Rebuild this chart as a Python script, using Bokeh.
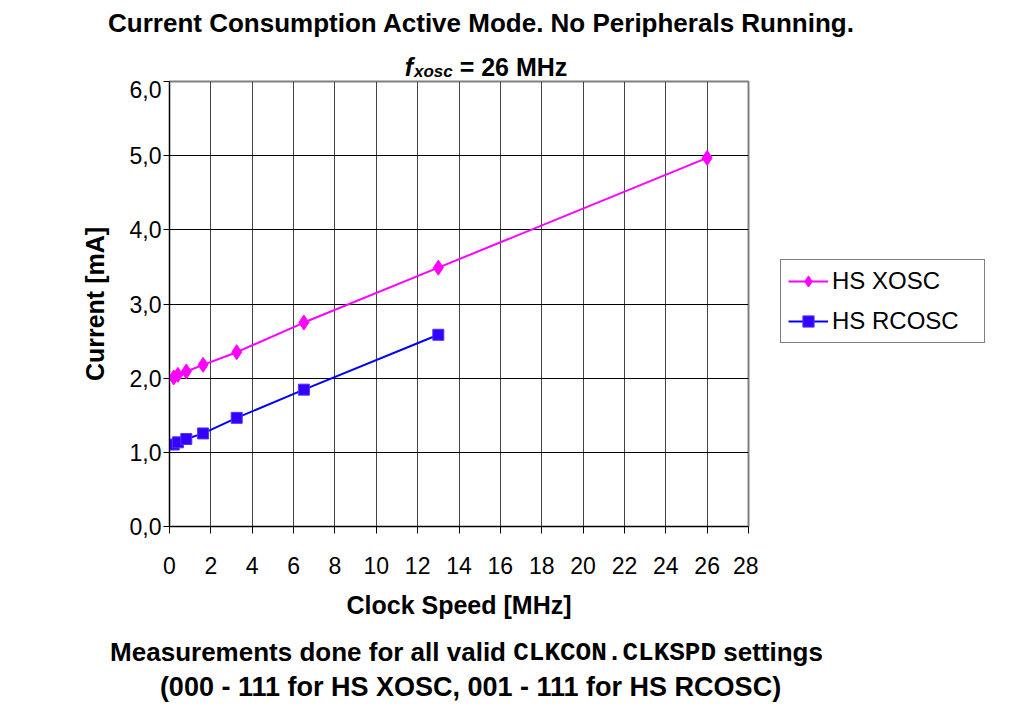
from bokeh.plotting import figure
from bokeh.layouts import column, row
from bokeh.models import Range1d, FixedTicker, Legend, LegendItem, Label
from bokeh.embed import file_html
from bokeh.resources import INLINE

# ---------------- data ----------------
clock_xosc = [0.203, 0.406, 0.8125, 1.625, 3.25, 6.5, 13.0, 26.0]
current_xosc = [2.01, 2.045, 2.09, 2.18, 2.35, 2.75, 3.49, 4.97]
clock_rcosc = [0.203, 0.406, 0.8125, 1.625, 3.25, 6.5, 13.0]
current_rcosc = [1.105, 1.135, 1.18, 1.255, 1.465, 1.845, 2.585]
series_names = ["HS XOSC", "HS RCOSC"]
series_colors = ["#FF00FF", "#0000FF"]
x_ticks = [0, 2, 4, 6, 8, 10, 12, 14, 16, 18, 20, 22, 24, 26, 28]
y_ticks = [0, 1, 2, 3, 4, 5, 6]
y_tick_labels = ["0,0", "1,0", "2,0", "3,0", "4,0", "5,0", "6,0"]
title_text = "Current Consumption Active Mode. No Peripherals Running."
x_label = "Clock Speed [MHz]"
y_label = "Current [mA]"
note_a = "Measurements done for all valid"
note_code = "CLKCON.CLKSPD"
note_b = "settings"
note_line2 = "(000 - 111 for HS XOSC, 001 - 111 for HS RCOSC)"

# ---------------- layout geometry (page pixels) ----------------
W, H = 1016, 714
FL, FR, FT, FB = 169, 748, 81, 526      # plot frame edges
X0, X1, Y0, Y1 = 0, 28, 0, 6
TOP_H = FT - 1                           # title strip: 0 .. 80
MAIN_W = FR + 10
BOT_Y = 634                              # notes strip: 634 .. 714
MAIN_H = BOT_Y - TOP_H
BOT_H = H - BOT_Y
LEG_W = W - MAIN_W

SANS = "Liberation Sans"
MONO = "Liberation Mono"
NAN = float("nan")


def strip(width, height, y_top):
    """A bare figure whose data units equal page pixels (y grows downward)."""
    f = figure(width=width, height=height,
               x_range=Range1d(0, width), y_range=Range1d(y_top + height, y_top),
               x_axis_type=None, y_axis_type=None,
               output_backend="svg", toolbar_location=None, min_border=0)
    f.outline_line_color = None
    f.background_fill_color = "white"
    f.border_fill_color = "white"
    return f


def label(f, x, y, s, size, style="bold", font=SANS, align="left"):
    f.add_layout(Label(x=x, y=y, text=s, text_align=align, text_baseline="middle",
                       text_font=font, text_font_size=f"{size}px",
                       text_font_style=style, text_color="black"))


# ---------------- main plot ----------------
p = figure(width=MAIN_W, height=MAIN_H,
           x_range=Range1d(X0, X1), y_range=Range1d(Y0, Y1),
           output_backend="svg", toolbar_location=None,
           min_border_left=FL, min_border_right=MAIN_W - FR,
           min_border_top=FT - TOP_H, min_border_bottom=BOT_Y - FB)
p.background_fill_color = "white"
p.border_fill_color = "white"
p.outline_line_color = "#808080"
p.outline_line_width = 2

for ax in (p.xaxis[0], p.yaxis[0]):
    ax.axis_line_color = "black"
    ax.axis_line_width = 1
    ax.major_tick_line_color = "black"
    ax.major_tick_in = 0
    ax.minor_tick_line_color = None
    ax.major_label_text_font = SANS
    ax.major_label_text_font_size = "23px"
    ax.major_label_text_color = "black"
    ax.axis_label_text_font = SANS
    ax.axis_label_text_font_size = "25px"
    ax.axis_label_text_font_style = "bold"
    ax.axis_label_text_color = "black"

p.xaxis.ticker = FixedTicker(ticks=x_ticks)
p.xaxis.major_tick_out = 7
p.xaxis.major_label_standoff = 23
p.xaxis.axis_label = x_label
p.xaxis.axis_label_standoff = 14

p.yaxis.ticker = FixedTicker(ticks=y_ticks)
p.yaxis.major_label_overrides = {t: s for t, s in zip(y_ticks, y_tick_labels)}
p.yaxis.major_tick_out = 6
p.yaxis.major_label_standoff = 2
p.yaxis.axis_label = y_label
p.yaxis.axis_label_standoff = 18

p.xgrid.ticker = FixedTicker(ticks=x_ticks[1:-1])
p.ygrid.ticker = FixedTicker(ticks=y_ticks[1:-1])
p.xgrid.grid_line_color = "#444444"
p.ygrid.grid_line_color = "black"

p.line(clock_xosc, current_xosc, line_color=series_colors[0], line_width=2)
p.scatter(clock_xosc, current_xosc, marker="diamond", size=15,
          fill_color=series_colors[0], line_color=series_colors[0])
p.line(clock_rcosc, current_rcosc, line_color=series_colors[1], line_width=2)
p.scatter(clock_rcosc, current_rcosc, marker="square", size=11,
          fill_color="#3300FF", line_color="#5533FF")

# ---------------- legend column (frame aligned with the plot frame) ----------------
lf = strip(LEG_W, MAIN_H, TOP_H)
k1 = lf.line(x=[NAN], y=[NAN], line_color=series_colors[0], line_width=2)
m1 = lf.scatter(x=[NAN], y=[NAN], marker="diamond", size=15,
                fill_color=series_colors[0], line_color=series_colors[0])
k2 = lf.line(x=[NAN], y=[NAN], line_color=series_colors[1], line_width=2)
m2 = lf.scatter(x=[NAN], y=[NAN], marker="square", size=11,
                fill_color="#3300FF", line_color="#5533FF")
legend = Legend(items=[LegendItem(label=series_names[0], renderers=[k1, m1]),
                       LegendItem(label=series_names[1], renderers=[k2, m2])],
                location=(780 - MAIN_W, FB - 343),
                orientation="vertical")
legend.margin = 0
legend.padding = 7
legend.spacing = 12
legend.glyph_width = 40
legend.glyph_height = 28
legend.label_standoff = 4
legend.label_width = 145
legend.label_text_font = SANS
legend.label_text_font_size = "24px"
legend.label_text_color = "black"
legend.border_line_color = "black"
legend.border_line_width = 1
legend.background_fill_color = "white"
legend.background_fill_alpha = 1
lf.add_layout(legend)

# ---------------- title strip (title + subtitle) ----------------
top = strip(W, TOP_H, 0)
label(top, 481, 22, title_text, 26, align="center")
main_sz, sub_sz = 25, 17
w_f = 0.333 * main_sz
w_sub = 2.279 * sub_sz
w_sp = 0.278 * main_sz
w_rest = 4.029 * main_sz
sx = 481.5 - (w_f + w_sub + w_sp + w_rest) / 2
label(top, sx, 66, "f", main_sz, style="bold italic")
label(top, sx + w_f + 1, 71, "xosc", sub_sz, style="bold italic")
label(top, sx + w_f + w_sub + w_sp + 1, 66, "= 26 MHz", main_sz)

# ---------------- notes strip ----------------
bot = strip(W, BOT_H, BOT_Y)
note_sz, code_sz = 26, 26
sp = 0.278 * note_sz
w_a = 15.227 * note_sz
w_code = 0.6 * len(note_code) * code_sz
w_b = 3.834 * note_sz
code_x = 466 - (w_a + w_code + w_b + 2 * sp) / 2 + w_a + sp
label(bot, code_x - sp, 651, note_a, note_sz, align="right")
label(bot, code_x, 652, note_code, code_sz, font=MONO)
label(bot, code_x + w_code + sp, 651, note_b, note_sz)
label(bot, 470, 686, note_line2, 27, align="center")

layout = column(top, row(p, lf), bot)
open("out.html", "w").write(file_html(layout, INLINE))
